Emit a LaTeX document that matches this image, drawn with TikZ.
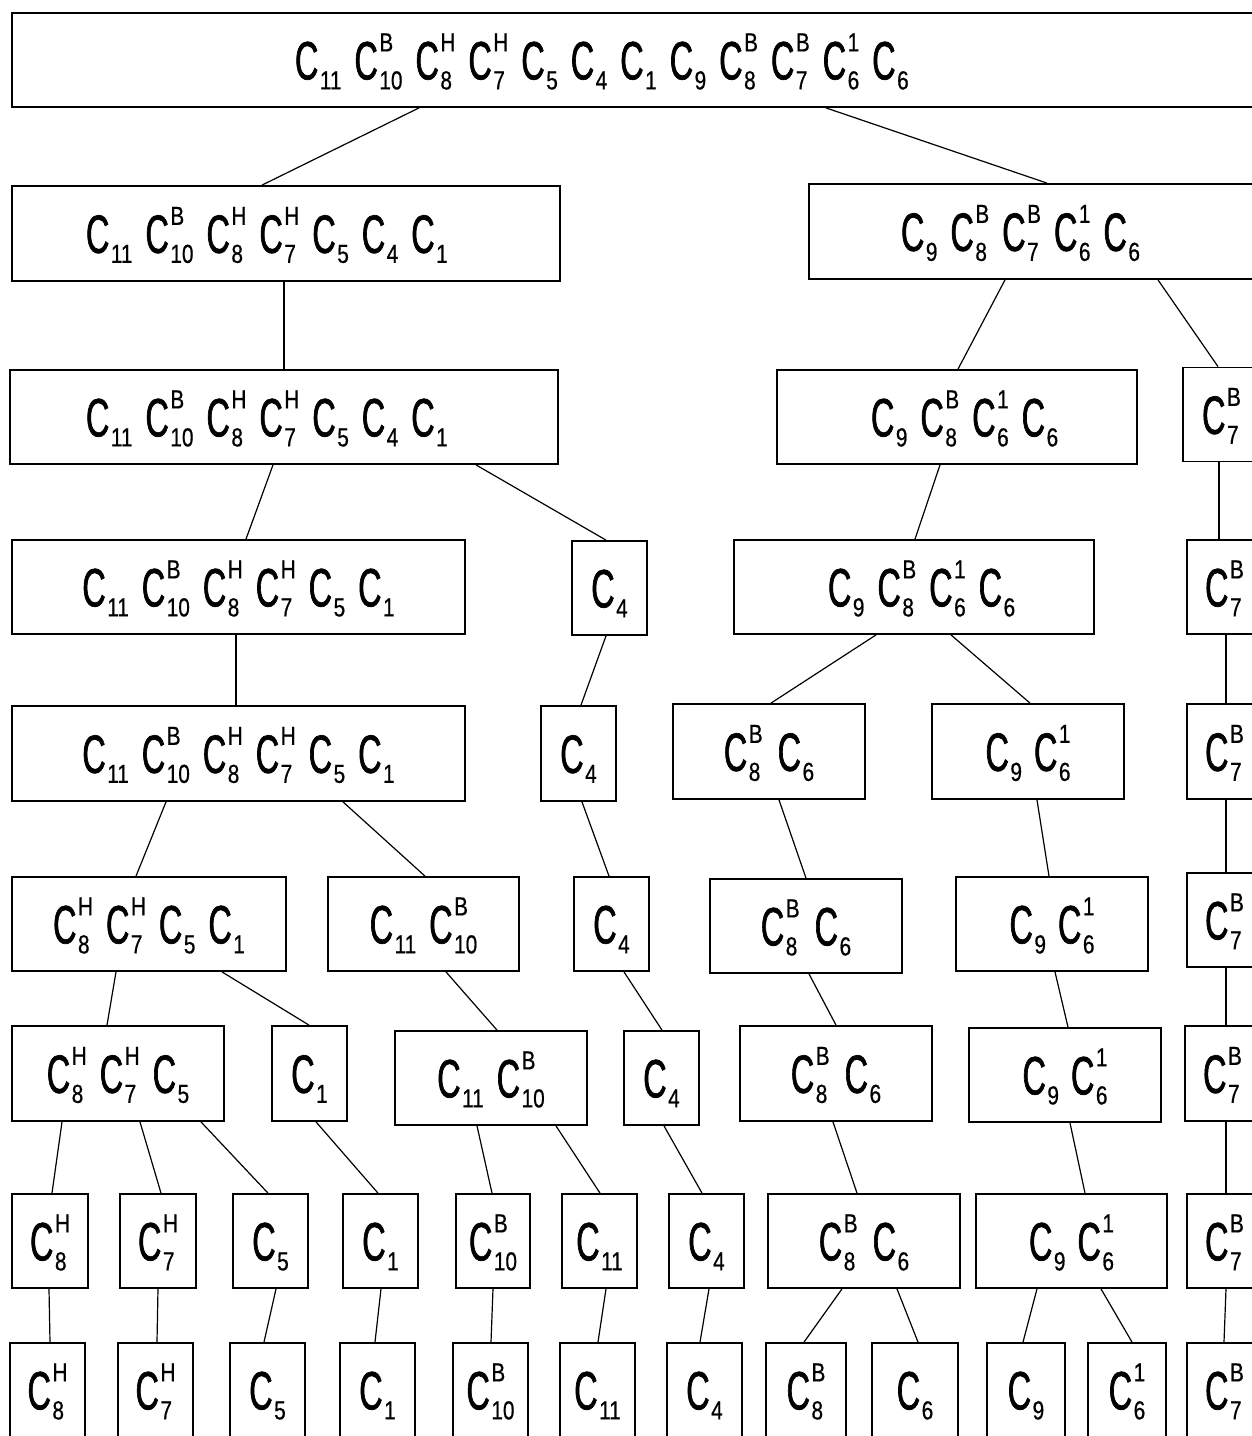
\documentclass[tikz,border=0pt]{standalone}
\usepackage{fontspec}
\setmainfont[FakeStretch=0.6,FakeBold=1.2]{Liberation Sans}
\newfontfamily\subff[FakeStretch=0.8,FakeBold=0.6]{Liberation Sans}
\newcommand\subsz{\subff\fontsize{26pt}{26pt}\selectfont}
\newcommand\cc[2]{C\kern1.5pt\setbox0\hbox{\subsz #1}\setbox2\hbox{\subsz #2}\ifdim\wd0<\wd2 \wd0=\wd2 \fi\setbox4\hbox{\rlap{\raise28pt\box2}\lower10pt\box0}\ht4=0pt \dp4=0pt \box4\relax}
\newcommand\gp{\hspace{13pt}}
\newcommand\txA{\cc{11}{}\gp\cc{10}{B}\gp\cc{8}{H}\gp\cc{7}{H}\gp\cc{5}{}\gp\cc{4}{}\gp\cc{1}{}}
\newcommand\txAA{\cc{11}{}\gp\cc{10}{B}\gp\cc{8}{H}\gp\cc{7}{H}\gp\cc{5}{}\gp\cc{1}{}}
\newcommand\txB{\cc{9}{}\gp\cc{8}{B}\gp\cc{6}{1}\gp\cc{6}{}}
\newcommand\txD{\cc{8}{B}\hspace{15pt}\cc{6}{}}
\newcommand\txE{\cc{9}{}\hspace{12pt}\cc{6}{1}}
\newcommand\txG{\cc{11}{}\gp\cc{10}{B}}
\newcommand\lk[4]{\draw[conn] ([xshift=#2pt]#1.south) -- ([xshift=#4pt]#3.north);}
\begin{document}
\begin{tikzpicture}[x=1pt,y=-1pt,
  box/.style={draw, line width=1.8pt, inner sep=0pt, minimum height=94pt,
    text height=38.7pt, text depth=0pt, font=\fontsize{54pt}{60pt}\selectfont},
  conn/.style={line width=1.2pt}]
\useasboundingbox (0,0) rectangle (1252,1436);
\clip (0,0) rectangle (1252,1436);
% row 0
\node[box, minimum width=1253pt] (top) at (638.5,60)
  {\makebox[1253pt][l]{\hspace{283pt}\cc{11}{}\gp\cc{10}{B}\gp\cc{8}{H}\gp\cc{7}{H}\gp\cc{5}{}\gp\cc{4}{}\gp\cc{1}{}\gp\cc{9}{}\gp\cc{8}{B}\gp\cc{7}{B}\gp\cc{6}{1}\gp\cc{6}{}}};
% row 1
\node[box, minimum width=548pt, minimum height=95pt] (a1) at (286,233.5) {\makebox[548pt][l]{\hspace{74pt}\txA}};
\node[box, minimum width=453pt, minimum height=95pt] (b1) at (1035.5,231.5) {\makebox[453pt][l]{\hspace{92pt}\cc{9}{}\gp\cc{8}{B}\gp\cc{7}{B}\gp\cc{6}{1}\gp\cc{6}{}}};
% row 2
\node[box, minimum width=548pt] (a2) at (284,417) {\makebox[548pt][l]{\hspace{76pt}\txA}};
\node[box, minimum width=360pt] (b2) at (957,417) {\makebox[360pt][l]{\hspace{94pt}\txB}};
\node[box, minimum width=77pt] (r2) at (1221.5,414.5) {\cc{7}{B}};
% row 3
\node[box, minimum width=453pt] (a3) at (238.5,587) {\txAA};
\node[box, minimum width=75pt] (c4a) at (609.5,588) {\cc{4}{}};
\node[box, minimum width=360pt] (b3) at (914,587) {\makebox[360pt][l]{\hspace{94pt}\txB}};
\node[box, minimum width=75pt] (r3) at (1224.5,587) {\cc{7}{B}};
% row 4
\node[box, minimum width=453pt, minimum height=95pt] (a4) at (238.5,753.5) {\txAA};
\node[box, minimum width=75pt, minimum height=95pt] (c4b) at (578.5,753.5) {\cc{4}{}};
\node[box, minimum width=192pt, minimum height=95pt] (d4) at (769,751.5) {\txD};
\node[box, minimum width=192pt, minimum height=95pt] (e4) at (1028,751.5) {\txE};
\node[box, minimum width=75pt, minimum height=95pt] (r4) at (1224.5,751.5) {\cc{7}{B}};
% row 5
\node[box, minimum width=274pt] (f5) at (149,924) {\cc{8}{H}\gp\cc{7}{H}\gp\cc{5}{}\gp\cc{1}{}};
\node[box, minimum width=191pt] (g5) at (423.5,924) {\txG};
\node[box, minimum width=75pt] (c4c) at (611.5,924) {\cc{4}{}};
\node[box, minimum width=192pt] (d5) at (806,926) {\txD};
\node[box, minimum width=192pt] (e5) at (1052,924) {\txE};
\node[box, minimum width=75pt] (r5) at (1224.5,920) {\cc{7}{B}};
% row 6
\node[box, minimum width=212pt, minimum height=95pt] (f6) at (118,1073.5) {\cc{8}{H}\gp\cc{7}{H}\gp\cc{5}{}};
\node[box, minimum width=75pt, minimum height=95pt] (h6) at (309.5,1073.5) {\cc{1}{}};
\node[box, minimum width=192pt] (g6) at (491,1078) {\txG};
\node[box, minimum width=75pt] (c4d) at (661.5,1078) {\cc{4}{}};
\node[box, minimum width=192pt, minimum height=95pt] (d6) at (836,1073.5) {\txD};
\node[box, minimum width=192pt] (e6) at (1065,1075) {\txE};
\node[box, minimum width=75pt, minimum height=95pt] (r6) at (1222.5,1073.5) {\cc{7}{B}};
% row 7
\node[box, minimum width=76pt] (l7a) at (50,1241) {\cc{8}{H}};
\node[box, minimum width=76pt] (l7b) at (158,1241) {\cc{7}{H}};
\node[box, minimum width=75pt] (l7c) at (270.5,1241) {\cc{5}{}};
\node[box, minimum width=75pt] (l7d) at (380.5,1241) {\cc{1}{}};
\node[box, minimum width=74pt] (l7e) at (493,1241) {\cc{10}{B}};
\node[box, minimum width=75pt] (l7f) at (599.5,1241) {\cc{11}{}};
\node[box, minimum width=75pt] (l7g) at (706.5,1241) {\cc{4}{}};
\node[box, minimum width=192pt] (d7) at (864,1241) {\txD};
\node[box, minimum width=191pt] (e7) at (1071.5,1241) {\txE};
\node[box, minimum width=75pt] (r7) at (1224.5,1241) {\cc{7}{B}};
% row 8
\node[box, minimum width=75pt] (l8a) at (47.5,1390) {\cc{8}{H}};
\node[box, minimum width=75pt] (l8b) at (155.5,1390) {\cc{7}{H}};
\node[box, minimum width=75pt] (l8c) at (267.5,1390) {\cc{5}{}};
\node[box, minimum width=75pt] (l8d) at (377.5,1390) {\cc{1}{}};
\node[box, minimum width=75pt] (l8e) at (490.5,1390) {\cc{10}{B}};
\node[box, minimum width=75pt] (l8f) at (597.5,1390) {\cc{11}{}};
\node[box, minimum width=75pt] (l8g) at (704.5,1390) {\cc{4}{}};
\node[box, minimum width=80pt] (l8h) at (806,1390) {\cc{8}{B}};
\node[box, minimum width=86pt] (l8i) at (915,1390) {\cc{6}{}};
\node[box, minimum width=78pt] (l8j) at (1026,1390) {\cc{9}{}};
\node[box, minimum width=78pt] (l8k) at (1127,1390) {\cc{6}{1}};
\node[box, minimum width=75pt] (r8) at (1224.5,1390) {\cc{7}{B}};
% connectors
\lk{top}{-219.5}{a1}{-24}
\lk{top}{187.5}{b1}{11.5}
\lk{a1}{-2}{a2}{0}
\lk{b1}{-30.5}{b2}{1}
\lk{b1}{122.5}{r2}{-3.5}
\lk{a2}{-11}{a3}{7.5}
\lk{a2}{192}{c4a}{-3.5}
\lk{b2}{-17}{b3}{1}
\lk{r2}{-2.5}{r3}{-5.5}
\lk{a3}{-2.5}{a4}{-2.5}
\lk{c4a}{-3.5}{c4b}{2.5}
\lk{b3}{-38}{d4}{2}
\lk{b3}{37}{e4}{2}
\lk{r3}{1.5}{r4}{1.5}
\lk{a4}{-72.5}{f5}{-13}
\lk{a4}{104.5}{g5}{1.5}
\lk{c4b}{3.5}{c4c}{-2.5}
\lk{d4}{10}{d5}{0}
\lk{e4}{9}{e5}{-3}
\lk{r4}{1.5}{r5}{1.5}
\lk{f5}{-33}{f6}{-11}
\lk{f5}{73}{h6}{-0.5}
\lk{g5}{22.5}{g6}{6}
\lk{c4c}{12.5}{c4d}{0.5}
\lk{d5}{3}{d6}{0}
\lk{e5}{3}{e6}{3}
\lk{r5}{1.5}{r6}{3.5}
\lk{f6}{-56}{l7a}{2}
\lk{f6}{22}{l7b}{3}
\lk{f6}{83}{l7c}{-2.5}
\lk{h6}{6.5}{l7d}{-2.5}
\lk{g6}{-14}{l7e}{-1}
\lk{g6}{65}{l7f}{0.5}
\lk{c4d}{2.5}{l7g}{-4.5}
\lk{d6}{-3}{d7}{-7}
\lk{e6}{5}{e7}{13.5}
\lk{r6}{3.5}{r7}{1.5}
\lk{l7a}{-1}{l8a}{2.5}
\lk{l7b}{0}{l8b}{1.5}
\lk{l7c}{5.5}{l8c}{-3.5}
\lk{l7d}{0.5}{l8d}{-2.5}
\lk{l7e}{0}{l8e}{0.5}
\lk{l7f}{6.5}{l8f}{0.5}
\lk{l7g}{2.5}{l8g}{-4.5}
\lk{d7}{-22}{l8h}{-2}
\lk{d7}{33}{l8i}{3}
\lk{e7}{-34.5}{l8j}{-3}
\lk{e7}{29.5}{l8k}{5}
\lk{r7}{1.5}{r8}{-0.5}
\end{tikzpicture}
\end{document}
